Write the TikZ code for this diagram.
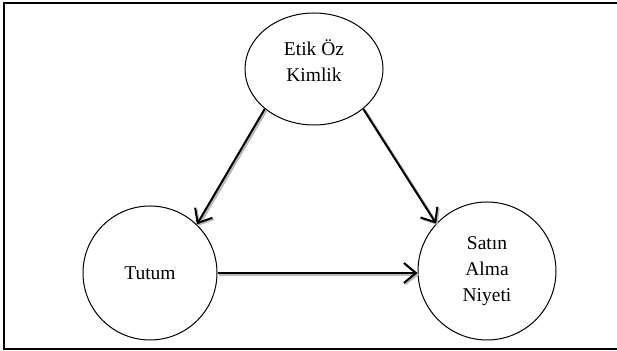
\documentclass[tikz,border=0pt]{standalone}
\usepackage{fontspec}
\setmainfont{Liberation Serif}
\usetikzlibrary{positioning, shapes.geometric, arrows.meta}
\tikzset{
  construct/.style={
    shape=circle,
    draw,
    line width=0.5pt,
    align=center,
    font=\fontsize{9.75}{13}\selectfont,
    minimum size=68pt,
    inner sep=0pt,
  },
  path/.style={
  draw, line width=1pt, -{Straight Barb[length=6pt, width=10pt, line width=1pt]},
  preaction={draw=gray!55, line width=1.4pt, transform canvas={shift={(0.7pt,-0.7pt)}}}
  }
}

\begin{document}
\begin{tikzpicture}[x=0.5pt, y=-0.5pt]
\useasboundingbox (0,0) rectangle (617,351);

% Frame
\draw[line width=1pt] (625,3) -- (4,3) -- (4,349) -- (625,349);

% Constructs
\node[construct, shape=ellipse, minimum width=69pt, minimum height=56pt] (ozkimlik) at (314,69) {Etik Öz\\Kimlik\\[-5pt]};
\node[construct, minimum size=67pt] (tutum) at (150,273) {Tutum};
\node[construct, minimum size=69pt] (niyet) at (487,271) {Satın\\Alma\\Niyeti};

% Paths
\draw[path] (ozkimlik.219) -- (tutum.46);
\draw[path] (ozkimlik.321) -- (niyet.137);
\draw[path] (tutum.east) -- (niyet.west |- tutum.east);

\end{tikzpicture}
\end{document}
